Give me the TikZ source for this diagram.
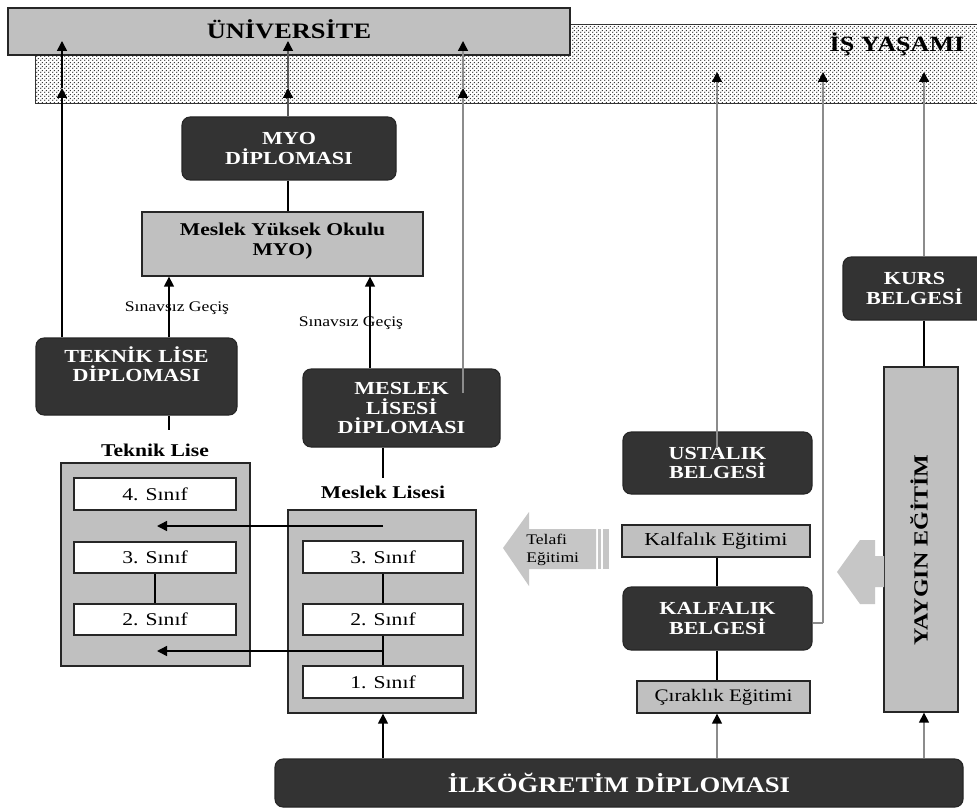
\documentclass[tikz,border=0pt]{standalone}
\usepackage{fontspec}
\setmainfont{Liberation Serif}[FakeStretch=1.2]
\usetikzlibrary{arrows.meta,fit,patterns}
\definecolor{darkfill}{HTML}{333333}
\definecolor{boxgray}{HTML}{C0C0C0}
\definecolor{linegray}{HTML}{8C8C8C}
\definecolor{arrowgray}{HTML}{C6C6C6}
\pgfdeclarepatternformonly{densedots}{\pgfpointorigin}{\pgfqpoint{3pt}{3pt}}{\pgfqpoint{3pt}{3pt}}{%
  \pgfpathcircle{\pgfqpoint{0.75pt}{0.75pt}}{0.62pt}%
  \pgfpathcircle{\pgfqpoint{2.25pt}{2.25pt}}{0.62pt}%
  \pgfusepath{fill}}
\begin{document}
\begin{tikzpicture}[x=0.75pt,y=-0.75pt,
  darkbox/.style={draw=black!85, fill=darkfill, rounded corners=6pt, line width=0.8pt, inner sep=0pt},
  graybox/.style={draw=black!85, fill=boxgray, line width=1pt, inner sep=0pt},
  whitebox/.style={draw=black!85, fill=white, line width=1pt, inner sep=0pt},
  darktext/.style={text=white, align=center, inner sep=0pt, font=\bfseries\fontsize{13.8}{14.5}\selectfont},
  classtext/.style={inner sep=0pt, font=\fontsize{13.5}{15}\selectfont},
  conn/.style={line width=1.1pt, draw=black},
  mconn/.style={line width=1.1pt, draw=black!65},
  gconn/.style={line width=1.1pt, draw=linegray},
  tip/.style={-{Triangle[length=7.5pt,width=7.5pt,color=black]}},
  lbl/.style={font=\fontsize{11}{12}\selectfont, inner sep=0pt},
  head/.style={font=\bfseries\fontsize{13.5}{15}\selectfont, inner sep=0pt},
]
\fill[white] (0,0) rectangle (977,809);
\useasboundingbox (0,0) rectangle (977,809);

% work life band and university
\node[fit={(36,25)(990,103)}, inner sep=0pt, fill=white] (band) {};
\fill[pattern=densedots, pattern color=black!85] (band.north west) rectangle (band.south east);
\draw[black!80, line width=0.8pt] (band.north west) rectangle (band.south east);
\node[inner sep=0pt, font=\bfseries\fontsize{16.3}{18}\selectfont] (isy) at (897,44) {İŞ YAŞAMI};
\node[graybox, fit={(8,8)(570,55)}, label={[inner sep=0pt, font=\bfseries\fontsize{16.5}{18}\selectfont, yshift=2pt]center:ÜNİVERSİTE}] (uni) {};

% MYO
\node[darkbox, fit={(182,117)(396,180)}, label={[darktext]center:MYO\\DİPLOMASI}] (myod) {};
\node[graybox, fit={(142,212)(423,276)}, label={[inner sep=0pt, align=center, font=\bfseries\fontsize{13.5}{15}\selectfont, yshift=2pt]center:Meslek Yüksek Okulu\\MYO)}] (myo) {};

% diplomas
\node[darkbox, fit={(36,338)(237,415)}, label={[darktext, yshift=9pt]center:TEKNİK LİSE\\DİPLOMASI}] (tld) {};
\node[darkbox, fit={(303,369)(500,447)}, label={[darktext]center:MESLEK\\LİSESİ\\DİPLOMASI}] (mld) {};

% Teknik Lise
\node[head] (tlt) at (155,450) {Teknik Lise};
\node[graybox, fit={(61,463)(250,666)}] (tlbox) {};
\node[whitebox, fit={(74,478)(236,510)}, label={[classtext]center:4. Sınıf}] (t4) {};
\node[whitebox, fit={(74,542)(236,573)}, label={[classtext]center:3. Sınıf}] (t3) {};
\node[whitebox, fit={(74,604)(236,635)}, label={[classtext]center:2. Sınıf}] (t2) {};

% Meslek Lisesi
\node[head] (mlt) at (383,492) {Meslek Lisesi};
\node[graybox, fit={(288,510)(476,713)}] (mlbox) {};
\node[whitebox, fit={(303,541)(463,573)}, label={[classtext]center:3. Sınıf}] (m3) {};
\node[whitebox, fit={(303,604)(463,635)}, label={[classtext]center:2. Sınıf}] (m2) {};
\node[whitebox, fit={(303,666)(463,698)}, label={[classtext]center:1. Sınıf}] (m1) {};

% right side
\node[darkbox, fit={(623,432)(812,494)}, label={[darktext]center:USTALIK\\BELGESİ}] (ust) {};
\node[graybox, fit={(622,525)(810,557)}, label={[inner sep=0pt, font=\fontsize{13.7}{15}\selectfont]center:Kalfalık Eğitimi}] (kalfe) {};
\node[darkbox, fit={(623,587)(812,650)}, label={[darktext]center:KALFALIK\\BELGESİ}] (kalfb) {};
\node[graybox, fit={(637,681)(810,713)}, label={[inner sep=0pt, font=\fontsize{13.2}{15}\selectfont]center:Çıraklık Eğitimi}] (cirak) {};
\node[darkbox, fit={(843,257)(986,320)}, label={[darktext]center:KURS\\BELGESİ}] (kurs) {};
\node[graybox, fit={(884,367)(958,712)}] (yay) {};
\node[rotate=90, inner sep=0pt, font=\bfseries\fontsize{15}{16}\selectfont] (yayt) at (919,550) {YAYGIN EĞİTİM};

% bottom
\node[darkbox, fit={(275,759)(963,807)}, label={[darktext, font=\bfseries\fontsize{16.7}{18}\selectfont]center:İLKÖĞRETİM DİPLOMASI}] (ilk) {};

% block arrows
\fill[arrowgray] (503,548) -- (529,512) -- (529,529) -- (596,529) -- (596,569) -- (529,569) -- (529,586) -- cycle;
\fill[arrowgray] (598,529) rectangle (601,569);
\fill[arrowgray] (603,529) rectangle (609,569);
\node[inner sep=0pt, align=left, anchor=west, font=\fontsize{11}{13}\selectfont] (telafi) at (526,550) {Telafi\\Eğitimi};
\fill[arrowgray] (837,572) -- (860,540) -- (875,540) -- (875,556) -- (884,556) -- (884,587) -- (875,587) -- (875,604) -- (860,604) -- cycle;

% coordinates
\coordinate (bA) at (62,88);  \coordinate (uA) at (62,41);
\coordinate (bB) at (288,88); \coordinate (uB) at (288,41);
\coordinate (bC) at (463,88); \coordinate (uC) at (463,41);
\coordinate (iA) at (717,72); \coordinate (iB) at (823,72); \coordinate (iC) at (924,72);
\coordinate (xT) at (169,0);  \coordinate (xM) at (370,0);
\coordinate (xL) at (383,0);  \coordinate (xT2) at (155,0);
\coordinate (mlS) at (463,393);
\coordinate (ustS) at (717,448);
\coordinate (kEnd) at (823,623);
\coordinate (tlEnd) at (169,430);
\coordinate (mlEnd) at (383,478);
\coordinate (a1s) at (383,526); \coordinate (a1e) at (157,526);
\coordinate (a2s) at (383,651); \coordinate (a2e) at (157,651);

% labels
\node[lbl] (sg1) at (177,308) {Sınavsız Geçiş};
\node[lbl] (sg2) at (351,323) {Sınavsız Geçiş};

% connectors to university
\draw[conn,tip] (tld.north -| bA) -- (bA);
\draw[conn,tip] (bA) -- (uA);
\draw[mconn,tip] (myod.north -| bB) -- (bB);
\draw[mconn,tip] (bB) -- (uB);
\draw[gconn,tip] (mlS) -- (bC);
\draw[gconn,tip] (bC) -- (uC);

% MYO links
\draw[conn] (myod.south -| bB) -- (myo.north -| bB);
\draw[conn,tip] (tld.north -| xT) -- (myo.south -| xT);
\draw[conn,tip] (mld.north -| xM) -- (myo.south -| xM);
\draw[conn] (tld.south -| xT) -- (tlEnd);
\draw[conn] (mld.south -| xL) -- (mlEnd);

% class links
\draw[conn] (t3.south -| xT2) -- (t2.north -| xT2);
\draw[conn] (m3.south -| xL) -- (m2.north -| xL);
\draw[conn] (m2.south -| xL) -- (m1.north -| xL);
\draw[conn,tip] (a1s) -- (a1e);
\draw[conn,tip] (a2s) -- (a2e);

% right side links
\draw[gconn,tip] (ustS) -- (iA);
\draw[conn] (kalfe.south -| iA) -- (kalfb.north -| iA);
\draw[conn] (kalfb.south -| iA) -- (cirak.north -| iA);
\draw[gconn] (kalfb.east |- kEnd) -- (kEnd);
\draw[gconn,tip] (kEnd) -- (iB);
\draw[gconn,tip] (kurs.north -| iC) -- (iC);
\draw[conn] (kurs.south -| iC) -- (yay.north -| iC);

% from primary school diploma
\draw[conn,tip] (ilk.north -| xL) -- (mlbox.south -| xL);
\draw[gconn,tip] (ilk.north -| iA) -- (cirak.south -| iA);
\draw[gconn,tip] (ilk.north -| iC) -- (yay.south -| iC);
\end{tikzpicture}
\end{document}
